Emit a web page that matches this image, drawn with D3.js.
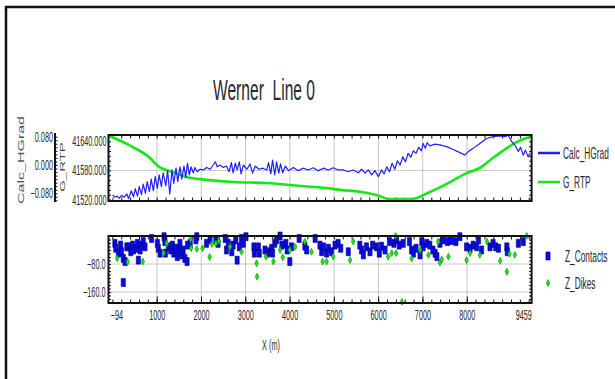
<!DOCTYPE html>
<html>
<head>
<meta charset="utf-8">
<script src="https://cdn.jsdelivr.net/npm/d3@7"></script>
<style>
  body { margin: 0; background: #fff; }
  svg { display: block; }
</style>
</head>
<body>
<svg id="chart" width="615" height="379"></svg>
<script>
// ---- data ----
const hgradX = [0, 50, 100, 150, 200, 260, 320, 360, 420, 470, 510, 560, 600, 650, 690, 740, 780, 830, 870, 920,
  960, 1010, 1050, 1100, 1140, 1200, 1240, 1290, 1340, 1380, 1430, 1470, 1520, 1560, 1610, 1650, 1690, 1730, 1770, 1820,
  1860, 1910, 1970, 2050, 2120, 2200, 2270, 2320, 2360, 2420, 2500, 2570, 2630, 2680, 2720, 2770, 2810, 2860, 2900, 2950,
  3030, 3100, 3160, 3220, 3300, 3390, 3480, 3520, 3570, 3610, 3660, 3700, 3750, 3790, 3840, 3900, 3970, 4080, 4190, 4300,
  4420, 4530, 4640, 4760, 4870, 4980, 5090, 5210, 5320, 5430, 5550, 5620, 5700, 5770, 5850, 5920, 6000, 6070, 6130, 6190,
  6250, 6310, 6370, 6430, 6490, 6550, 6610, 6670, 6730, 6790, 6850, 6910, 6970, 7010, 7060, 7100, 7160, 7280, 7390, 7540,
  7690, 7840, 7950, 8030, 8140, 8290, 8440, 8590, 8750, 8860, 8930, 9010, 9080, 9160, 9210, 9270, 9320, 9380, 9420];
const hgradV = [-0.085, -0.091, -0.088, -0.094, -0.086, -0.091, -0.082, -0.095, -0.073, -0.090, -0.067, -0.088, -0.061, -0.084, -0.054, -0.080, -0.047, -0.075, -0.040, -0.073,
  -0.033, -0.066, -0.028, -0.061, -0.022, -0.059, -0.016, -0.082, -0.014, -0.052, -0.009, -0.047, -0.005, -0.040, -0.003, -0.035, 0.005, -0.028, -0.005, -0.022,
  -0.007, -0.019, -0.012, -0.014, -0.007, -0.012, 0.000, 0.009, -0.005, 0.000, -0.007, -0.003, -0.019, 0.007, -0.022, 0.005, -0.014, 0.009, -0.025, 0.000,
  -0.012, 0.003, -0.023, -0.003, -0.012, -0.009, -0.014, 0.007, -0.025, 0.014, -0.028, 0.009, -0.023, 0.003, -0.022, -0.003, -0.016, -0.007, -0.016, -0.009,
  -0.014, -0.008, -0.016, -0.009, -0.014, -0.008, -0.014, -0.014, -0.019, -0.014, -0.022, -0.012, -0.023, -0.014, -0.028, -0.016, -0.033, -0.014, -0.025, -0.005,
  -0.019, 0.005, -0.012, 0.012, 0.000, 0.023, 0.009, 0.033, 0.022, 0.040, 0.033, 0.050, 0.040, 0.061, 0.047, 0.063, 0.054, 0.059, 0.057, 0.052,
  0.044, 0.035, 0.028, 0.038, 0.047, 0.061, 0.075, 0.080, 0.082, 0.080, 0.084, 0.066, 0.057, 0.038, 0.050, 0.028, 0.042, 0.023, 0.033];

const rtpX = [-94, 460, 840, 1020, 1340, 1680, 1970, 2720, 3480, 4230, 4970, 5130, 5580, 6040, 6220, 6760, 7100, 7620, 8000, 8290, 8590, 8900, 9130, 9420];
const rtpV = [41652, 41628, 41606, 41589, 41577, 41566, 41562, 41556, 41554, 41548, 41542, 41540, 41536, 41527, 41521, 41521, 41533, 41556, 41575, 41585, 41606, 41626, 41639, 41649];

const contactX = [50, 70, 130, 180, 200, 240, 280, 240, 320, 370, 410, 450, 470, 530, 560, 580, 620, 650, 690, 730,
  880, 1010, 1030, 1070, 1160, 1180, 1190, 1260, 1310, 1350, 1380, 1430, 1460, 1500, 1520, 1560, 1590, 1630, 1680, 1690,
  1750, 1900, 1880, 2120, 2200, 2330, 2380, 2540, 2570, 2610, 2690, 2720, 2780, 2810, 2860, 2910, 2950, 3010, 3190, 3200,
  3290, 3310, 3440, 3490, 3550, 3590, 3610, 3660, 3700, 3780, 3820, 3910, 3940, 4000, 4040, 4210, 4340, 4380, 4570, 4680,
  4720, 4760, 4830, 4870, 4940, 5020, 5090, 5150, 5320, 5580, 5620, 5660, 5730, 5810, 5870, 5960, 6020, 6070, 6150, 6250,
  6350, 6410, 6470, 6560, 6700, 6750, 6790, 6850, 6940, 6980, 7010, 7090, 7160, 7230, 7280, 7320, 7390, 7460, 7560, 7650,
  7750, 7840, 7990, 8070, 8140, 8220, 8260, 8330, 8520, 8590, 8650, 8710, 8900, 8910, 9160, 9270];
const contactZ = [-21, -35, -49, -26, -45, -64, -73, -133, -31, -31, -45, -26, -40, -35, -21, -69, -40, -26, -16, -31,
  -7, -21, -35, -49, -2, -16, -49, -31, -40, -26, -49, -35, -59, -40, -21, -54, -40, -64, -73, -26,
  -21, -2, -11, -21, -11, -11, -21, -7, -40, -21, -45, -26, -11, -69, -31, -7, -21, -2, -31, -49,
  -31, -49, -40, -49, -45, -35, -49, -21, -11, 0, -26, -21, -40, -73, -31, -7, -29, -40, -7, -26,
  -45, -31, -49, -35, -45, -26, -21, -35, -45, -26, -40, -54, -31, -45, -26, -31, -49, -29, -40, -16,
  -21, -11, -26, -21, -16, -40, -49, -35, -54, -16, -31, -21, -26, -40, -49, -59, -21, -11, -16, -13,
  -16, -2, -31, -35, -26, -31, -11, -40, -31, -21, -31, -35, -31, -45, -21, -16];

const dikeX = [100, 340, 680, 1150, 1220, 1760, 1770, 1900, 2030, 2190, 2240, 2330, 2400, 2650, 2910, 3250, 3260, 3460, 3630, 3780,
  3840, 4000, 4120, 4340, 4490, 4740, 4830, 4980, 5360, 5430, 6220, 6300, 6400, 6390, 6530, 6750, 6940, 7130, 7350, 7390,
  7430, 7580, 7990, 8070, 8290, 8450, 8750, 8900, 8960, 9080, 9350];
const dikeZ = [-64, -74, -73, -49, -21, -9, -35, -37, -35, -60, -23, -21, -14, -31, -45, -78, -116, -59, -73, -40,
  -61, -40, -31, -16, -45, -73, -73, -59, -69, -16, -59, -49, -49, 0, -188, -64, -40, -54, -16, -76,
  -67, -59, -69, -49, -54, -16, -71, -102, -51, -54, 0];

const xTickLabels = [-94, 1000, 2000, 3000, 4000, 5000, 6000, 7000, 8000, 9459];
const gridX = [1000, 2000, 3000, 4000, 5000, 6000, 7000, 8000];
const rtpTicks = [41520, 41580, 41640];
const hgradTicks = [-0.08, 0, 0.08];
const zTicks = [-80, -160];
const lineNames = ['Calc_HGrad', 'G_RTP'];
const pointNames = ['Z_Contacts', 'Z_Dikes'];

// ---- drawing ----
// the whole plot is drawn horizontally squeezed, like the narrow original
const SX = 0.52;
const px = v => v / SX;
const FONT = '"Liberation Sans", Arial, sans-serif';
const INK = '#2a2a2a';
const BLUE = '#1f1fff', GREEN = '#16e816', GRID = '#c8c8c8';

const svg = d3.select('#chart');
svg.append('rect').attr('width', 615).attr('height', 379).attr('fill', '#fff');
svg.append('path').attr('d', 'M6,379V7H615').attr('fill', 'none')
  .attr('stroke', '#111').attr('stroke-width', 2.5);

const g = svg.append('g').attr('transform', `scale(${SX},1)`)
  .attr('font-family', FONT).attr('fill', INK);

const x = d3.scaleLinear().domain([-94, 9459]).range([px(108.5), px(531.6)]);
const yRtp = d3.scaleLinear().domain([41517, 41653]).range([201, 135]);
const yHg = d3.scaleLinear().domain([-0.1018, 0.0848]).range([201, 135]);
const yZ = d3.scaleLinear().domain([-191.4, 0]).range([303, 236]);
const [xl, xr] = x.range();

function grid(y0, y1, hy) {
  const gg = g.append('g').attr('stroke', GRID).attr('stroke-width', 1);
  gg.selectAll('.v').data(gridX).join('line').attr('class', 'v')
    .attr('x1', d => x(d)).attr('x2', d => x(d)).attr('y1', y0).attr('y2', y1);
  gg.selectAll('.h').data(hy).join('line').attr('class', 'h')
    .attr('x1', xl).attr('x2', xr).attr('y1', d => d).attr('y2', d => d);
}
grid(135, 201, rtpTicks.slice(1, 2).map(yRtp));
grid(236, 303, zTicks.map(yZ));

function tidy(sel) {
  sel.select('.domain').remove();
  sel.attr('font-family', FONT).attr('font-size', 14);
  sel.selectAll('line').attr('stroke', '#111');
  sel.selectAll('text').attr('fill', INK);
}

const minorX = d3.range(0, 9459, 200);
function edgeTicks(yTop, yBot, yScale, yVals, bottomMajor) {
  g.append('g').attr('transform', `translate(0,${yTop})`)
    .call(d3.axisTop(x).tickValues(minorX).tickSize(-3.5).tickFormat('')).call(tidy);
  g.append('g').attr('transform', `translate(0,${yBot})`)
    .call(d3.axisBottom(x).tickValues(minorX).tickSize(-3.5).tickFormat('')).call(tidy);
  if (bottomMajor) {
    g.append('g').attr('transform', `translate(0,${yBot})`)
      .call(d3.axisBottom(x).tickValues(gridX).tickSize(-6.5).tickFormat('')).call(tidy);
  }
  g.append('g').attr('transform', `translate(${xl},0)`)
    .call(d3.axisRight(yScale).tickValues(yVals).tickSize(px(2.5)).tickFormat('')).call(tidy);
  g.append('g').attr('transform', `translate(${xr},0)`)
    .call(d3.axisLeft(yScale).tickValues(yVals).tickSize(px(2.5)).tickFormat('')).call(tidy);
}
edgeTicks(135, 201, yRtp, d3.range(41520, 41651, 10), false);
edgeTicks(236, 303, yZ, d3.range(-190, 1, 10), true);

// lines
const rtpLine = d3.line().curve(d3.curveMonotoneX).x(d => x(d[0])).y(d => yRtp(d[1]));
const hgLine = d3.line().x(d => x(d[0])).y(d => yHg(d[1]));
g.append('path').datum(d3.zip(rtpX, rtpV)).attr('d', rtpLine)
  .attr('fill', 'none').attr('stroke', GREEN).attr('stroke-width', 2.6);
g.append('path').datum(d3.zip(hgradX, hgradV)).attr('d', hgLine)
  .attr('fill', 'none').attr('stroke', BLUE).attr('stroke-width', 1.2).attr('stroke-linejoin', 'round');

// scatter
const square = d3.symbol(d3.symbolSquare, 64);
const diamond = d3.symbol(d3.symbolSquare, 24);
g.append('g').selectAll('path').data(d3.zip(contactX, contactZ)).join('path')
  .attr('d', square).attr('transform', d => `translate(${x(d[0])},${yZ(d[1])})`)
  .attr('fill', '#0a0ae6').attr('stroke', '#00006e').attr('stroke-width', 0.6);
g.append('g').selectAll('path').data(d3.zip(dikeX, dikeZ)).join('path')
  .attr('d', diamond).attr('transform', d => `translate(${x(d[0])},${yZ(d[1])}) rotate(45)`)
  .attr('fill', GREEN).attr('stroke', '#0b8f0b').attr('stroke-width', 0.6);

// plot borders
[[135, 201], [236, 303]].forEach(([a, b]) => {
  g.append('rect').attr('x', xl).attr('y', a).attr('width', xr - xl).attr('height', b - a)
    .attr('fill', 'none').attr('stroke', '#111').attr('stroke-width', 2);
});

// value axes
g.append('g').attr('transform', `translate(${xl},0)`)
  .call(d3.axisLeft(yRtp).tickValues(rtpTicks).tickSize(0).tickPadding(px(2)).tickFormat(d3.format('.3f')))
  .call(tidy);
g.append('g').attr('transform', `translate(${xl},0)`)
  .call(d3.axisLeft(yZ).tickValues(zTicks).tickSize(0).tickPadding(px(3)).tickFormat(d3.format('.1f')))
  .call(tidy);

const hx = px(55);
g.append('line').attr('x1', hx).attr('x2', hx).attr('y1', 133).attr('y2', 202)
  .attr('stroke', '#111').attr('stroke-width', 2);
g.append('g').attr('transform', `translate(${hx},0)`)
  .call(d3.axisRight(yHg).tickValues(d3.range(-0.1, 0.085, 0.01)).tickSize(px(2.5)).tickFormat(''))
  .call(tidy);
g.append('g').attr('transform', `translate(${hx},0)`)
  .call(d3.axisLeft(yHg).tickValues(hgradTicks).tickSize(0).tickPadding(px(2)).tickFormat(d3.format('.3f')))
  .call(tidy);

// x axis labels
const xa = g.append('g').attr('transform', 'translate(0,303)')
  .call(d3.axisBottom(x).tickValues(xTickLabels).tickSize(0).tickPadding(7).tickFormat(d3.format('d')))
  .call(tidy);
xa.selectAll('text').attr('text-anchor', (d, i) => i === 0 ? 'start' : i === xTickLabels.length - 1 ? 'end' : 'middle')
  .attr('dx', (d, i) => i === 0 ? px(2) : 0);

// titles
g.append('text').attr('x', px(264)).attr('y', 100).attr('text-anchor', 'middle')
  .attr('font-size', 30).style('white-space', 'pre').text('Werner  Line 0');
g.append('text').attr('x', px(271)).attr('y', 350).attr('text-anchor', 'middle')
  .attr('font-size', 14).text('X (m)');
g.append('text').attr('transform', `translate(${px(21)},160) rotate(-90)`).attr('text-anchor', 'middle')
  .attr('dy', '0.35em').attr('font-size', 16).attr('fill', '#555').text(lineNames[0]);
g.append('text').attr('transform', `translate(${px(62.5)},167) rotate(-90)`).attr('text-anchor', 'middle')
  .attr('dy', '0.35em').attr('font-size', 15).attr('fill', '#444').text(lineNames[1]);

// legends
const lg = g.append('g').attr('font-size', 16);
[[153, BLUE], [182, GREEN]].forEach(([yy, c], i) => {
  lg.append('line').attr('x1', px(538)).attr('x2', px(560)).attr('y1', yy).attr('y2', yy)
    .attr('stroke', c).attr('stroke-width', 2.5);
  lg.append('text').attr('x', px(563)).attr('y', yy).attr('dy', '0.35em').text(lineNames[i]);
});
lg.append('path').attr('d', square).attr('transform', `translate(${px(548)},256)`)
  .attr('fill', '#0a0ae6').attr('stroke', '#00006e').attr('stroke-width', 0.6);
lg.append('path').attr('d', diamond).attr('transform', `translate(${px(548)},283) rotate(45)`)
  .attr('fill', GREEN).attr('stroke', '#0b8f0b').attr('stroke-width', 0.6);
lg.append('text').attr('x', px(565)).attr('y', 256).attr('dy', '0.35em').text(pointNames[0]);
lg.append('text').attr('x', px(565)).attr('y', 283).attr('dy', '0.35em').text(pointNames[1]);

// keep stroke widths unsqueezed
g.selectAll('line, path, rect').attr('vector-effect', 'non-scaling-stroke');
</script>
</body>
</html>
